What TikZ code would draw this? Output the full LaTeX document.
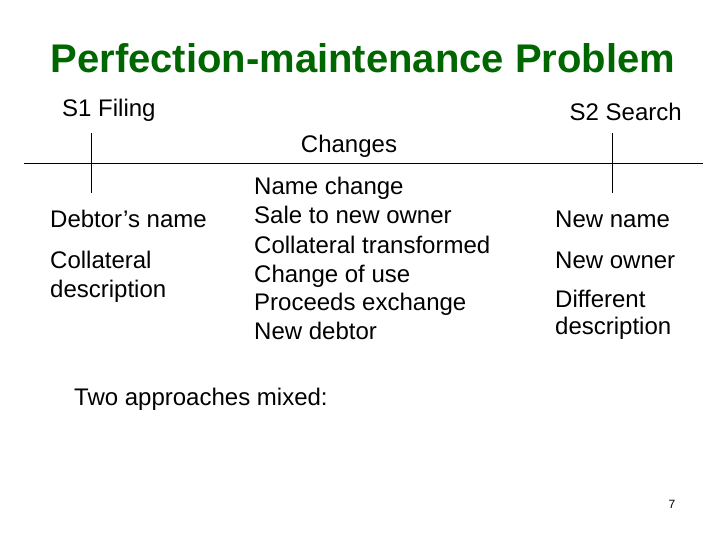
\documentclass[tikz,border=0pt]{standalone}
\usepackage{fontspec}
\setmainfont{Liberation Sans}
\definecolor{titlegreen}{RGB}{0,102,0}
\begin{document}
\begin{tikzpicture}[x=1pt,y=-1pt,
  txt/.style={anchor=base west,inner sep=0pt,font=\fontsize{24}{28.8}\selectfont},
  ttl/.style={anchor=base,inner sep=0pt,text=titlegreen,font=\fontsize{40}{48}\selectfont\bfseries},
  rule/.style={draw=black,line width=0.9pt}]
\useasboundingbox (0,0) rectangle (720,540);
\node[ttl] (title) at (363,73) {Perfection-maintenance Problem};
\node[txt] (s1) at (62,117) {S1 Filing};
\node[txt,anchor=base east] (s2) at (682,121) {S2 Search};
\node[txt,anchor=base] (chg) at (349,153) {Changes};
% timeline
\coordinate (hl) at (24,163);
\coordinate (hr) at (703,163);
\coordinate (v1t) at (91,133);
\coordinate (v1b) at (91,193);
\coordinate (v2t) at (612,133);
\coordinate (v2b) at (612,193);
\draw[rule] (hl) -- (hr);
\draw[rule] (v1t) -- (v1b);
\draw[rule] (v2t) -- (v2b);
% centre list
\node[txt] (c1) at (254,195) {Name change};
\node[txt] (c2) at (254,224) {Sale to new owner};
\node[txt] (c3) at (254,253) {Collateral transformed};
\node[txt] (c4) at (254,282) {Change of use};
\node[txt] (c5) at (254,310) {Proceeds exchange};
\node[txt] (c6) at (254,339) {New debtor};
% left column
\node[txt] (l1) at (50,228) {Debtor’s name};
\node[txt] (l2) at (50,268) {Collateral};
\node[txt] (l3) at (50,297) {description};
% right column
\node[txt] (r1) at (555,227) {New name};
\node[txt] (r2) at (555,268) {New owner};
\node[txt] (r3) at (555,307) {Different};
\node[txt] (r4) at (555,334) {description};
% bottom
\node[txt] (two) at (74,405) {Two approaches mixed:};
\node[anchor=base,inner sep=0pt,font=\fontsize{12}{14}\selectfont] (pg) at (672,508) {7};
\end{tikzpicture}
\end{document}
